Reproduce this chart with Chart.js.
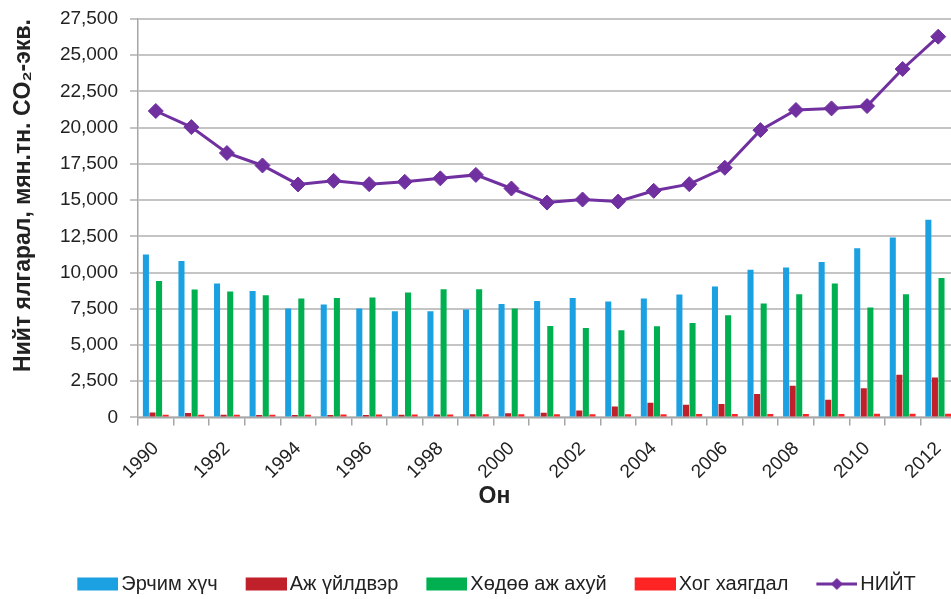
<!DOCTYPE html>
<html>
<head>
<meta charset="utf-8">
<script src="https://cdn.jsdelivr.net/npm/chart.js@4.4.1/dist/chart.umd.min.js"></script>
<style>
html, body { margin: 0; padding: 0; background: #ffffff; width: 951px; height: 599px; overflow: hidden; }
#wrap { width: 956px; height: 599px; position: relative; }
canvas { display: block; }
</style>
</head>
<body>
<div id="wrap"><canvas id="chart" width="956" height="599"></canvas></div>
<script>
// ---- data ----
const years = ['1990','1991','1992','1993','1994','1995','1996','1997','1998','1999','2000','2001','2002','2003','2004','2005','2006','2007','2008','2009','2010','2011','2012'];
const energy = [11240, 10800, 9240, 8730, 7510, 7790, 7510, 7330, 7330, 7440, 7830, 8040, 8250, 8000, 8200, 8480, 9030, 10200, 10350, 10730, 11680, 12420, 13640];
const industry = [330, 300, 180, 160, 160, 170, 170, 180, 200, 220, 280, 320, 480, 760, 1010, 870, 920, 1610, 2190, 1220, 2020, 2950, 2760];
const agriculture = [9420, 8820, 8690, 8430, 8200, 8250, 8270, 8620, 8850, 8850, 7510, 6310, 6170, 6010, 6290, 6520, 7050, 7860, 8500, 9240, 7580, 8500, 9630];
const waste = [190, 190, 190, 190, 190, 200, 200, 200, 200, 210, 210, 210, 220, 220, 220, 230, 230, 230, 240, 240, 250, 250, 260];
const total = [21150, 20040, 18250, 17390, 16080, 16330, 16100, 16260, 16500, 16740, 15800, 14830, 15040, 14900, 15640, 16100, 17230, 19830, 21220, 21330, 21490, 24050, 26280];
const seriesNames = ['Эрчим хүч', 'Аж үйлдвэр', 'Хөдөө аж ахуй', 'Хог хаягдал', 'НИЙТ'];
const yMin = 0, yMax = 27500, yStep = 2500;
const yTitle = 'Нийт ялгарал, мян.тн. CO₂-экв.';
const xTitle = 'Он';

// ---- styles ----
const colors = ['#1ba1e2', '#c0202a', '#00b050', '#ff2424', '#7030a0'];
const gridColor = '#c4c4c4';
const axisColor = '#a6a6a6';
const textColor = '#222222';

function legendImage(color, isLine) {
  const c = document.createElement('canvas');
  c.width = 52; c.height = 16;
  const g = c.getContext('2d');
  if (!isLine) {
    g.fillStyle = color;
    g.fillRect(11, 1.5, 41, 13);
  } else {
    g.strokeStyle = color; g.lineWidth = 3;
    g.beginPath(); g.moveTo(11, 8); g.lineTo(52, 8); g.stroke();
    g.fillStyle = color;
    g.beginPath(); g.moveTo(31.5, 2); g.lineTo(37.5, 8); g.lineTo(31.5, 14); g.lineTo(25.5, 8); g.closePath(); g.fill();
  }
  return c;
}
const legendImgs = colors.map((c, i) => legendImage(c, i === 4));

const barCommon = { type: 'bar', borderWidth: 0, categoryPercentage: 0.74, barPercentage: 0.92 };

new Chart(document.getElementById('chart').getContext('2d'), {
  data: {
    labels: years,
    datasets: [
      Object.assign({ label: seriesNames[0], data: energy, backgroundColor: colors[0] }, barCommon),
      Object.assign({ label: seriesNames[1], data: industry, backgroundColor: colors[1] }, barCommon),
      Object.assign({ label: seriesNames[2], data: agriculture, backgroundColor: colors[2] }, barCommon),
      Object.assign({ label: seriesNames[3], data: waste, backgroundColor: colors[3] }, barCommon),
      {
        type: 'line', label: seriesNames[4], data: total, order: -1,
        borderColor: colors[4], backgroundColor: colors[4], borderWidth: 3,
        pointStyle: 'rectRot', pointRadius: 7.5, pointHoverRadius: 7.5,
        pointBackgroundColor: colors[4], pointBorderColor: colors[4], pointBorderWidth: 1,
        tension: 0, fill: false
      }
    ]
  },
  options: {
    responsive: false,
    animation: false,
    devicePixelRatio: 1,
    layout: { autoPadding: false, padding: { top: 19, left: 33, right: 0, bottom: -5 } },
    scales: {
      x: {
        type: 'category',
        offset: true,
        afterFit: (s) => { s.height = 73; s.paddingLeft = 0; s.paddingRight = 0; },
        grid: { display: true, drawOnChartArea: false, drawTicks: true, tickLength: 8, color: axisColor, lineWidth: 1.5, offset: true },
        border: { display: true, color: axisColor, width: 1.5 },
        ticks: {
          autoSkip: false, minRotation: 45, maxRotation: 45, padding: 12,
          color: textColor,
          font: { family: "'Liberation Sans', Arial, sans-serif", size: 19 },
          callback: function (v, i) { return i % 2 === 0 ? years[i] : ''; }
        }
      },
      y: {
        min: yMin, max: yMax,
        afterFit: (s) => { s.width = 105; s.paddingTop = 0; s.paddingBottom = 0; },
        grid: { color: gridColor, lineWidth: 2, tickLength: 8, drawTicks: true },
        border: { display: true, color: axisColor, width: 1.5 },
        ticks: {
          stepSize: yStep, padding: 12, color: textColor,
          font: { family: "'Liberation Sans', Arial, sans-serif", size: 19 },
          callback: (v) => Number(v).toLocaleString('en-US')
        },
        title: {
          display: true, text: yTitle, align: 'end', color: textColor,
          font: { family: "'Liberation Sans', Arial, sans-serif", size: 23, weight: 'bold' },
          padding: { top: -23, bottom: 0 }
        }
      }
    },
    plugins: {
      tooltip: { enabled: false },
      title: {
        display: true, text: xTitle, position: 'bottom', weight: 500, color: textColor,
        font: { family: "'Liberation Sans', Arial, sans-serif", size: 23, weight: 'bold' },
        padding: { top: -8, bottom: 40 }
      },
      legend: {
        display: true, position: 'bottom', align: 'center',
        labels: {
          usePointStyle: true, pointStyleWidth: 38, boxHeight: 13, padding: 24,
          color: textColor,
          font: { family: "'Liberation Sans', Arial, sans-serif", size: 20 },
          generateLabels: (chart) => chart.data.datasets.map((ds, i) => ({
            text: ds.label, pointStyle: legendImgs[i], fillStyle: colors[i], strokeStyle: colors[i],
            lineWidth: 0, hidden: !chart.isDatasetVisible(i), datasetIndex: i, fontColor: textColor
          }))
        }
      }
    }
  }
});
</script>
</body>
</html>
